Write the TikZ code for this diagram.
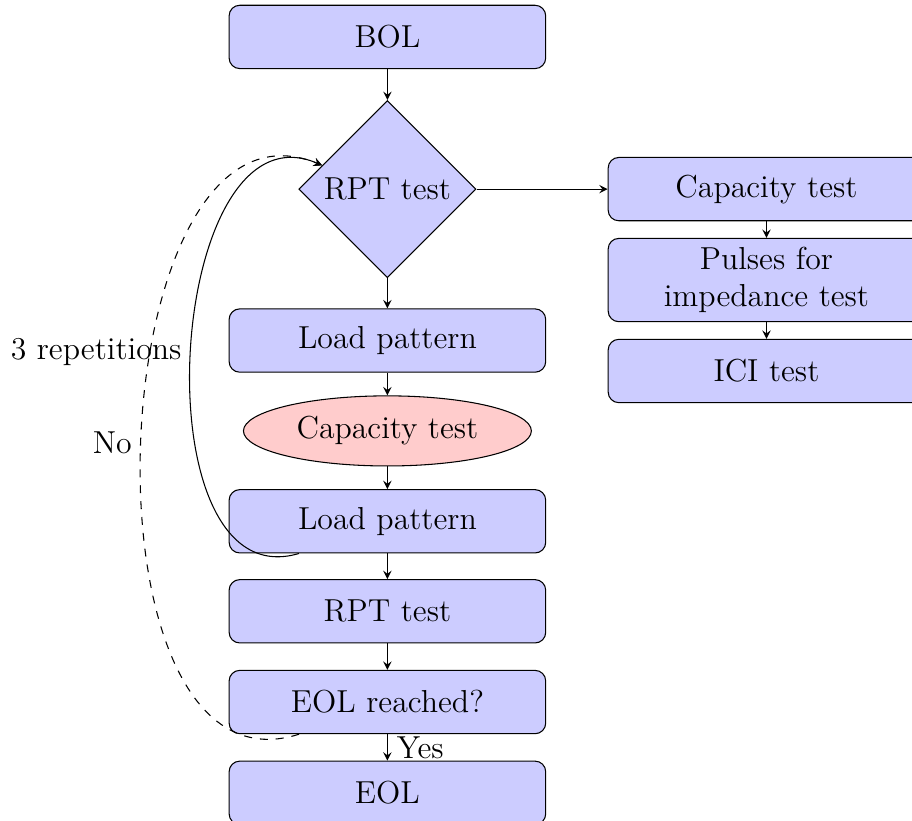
\documentclass[tikz,border=0pt]{standalone}
\usepackage{xcolor}
\usepackage{tikz}
\usetikzlibrary{positioning,shapes.geometric}
\definecolor{stepblue}{RGB}{204,204,255}
\definecolor{checkred}{RGB}{255,204,204}

\begin{document}
\begin{tikzpicture}[font=\large, >=stealth,
  stepbox/.style={draw, rounded corners, fill=stepblue, minimum width=4.2cm, minimum height=0.84cm, text width=3.9cm, align=center},
  decision/.style={draw, diamond, fill=stepblue, minimum size=2.35cm, inner sep=0pt},
  checkpoint/.style={draw, ellipse, fill=checkred, minimum width=3.82cm, minimum height=0.93cm}]
\useasboundingbox (-5.14,0.49) rectangle (6.96,-10.40);

% Ageing loop
\node[stepbox] (bol) at (0,0) {BOL};
\node[decision, below=0.41cm of bol] (rpt) {RPT test};
\node[stepbox, below=0.40cm of rpt] (load1) {Load pattern};
\node[checkpoint, below=0.30cm of load1] (captest) {Capacity test};
\node[stepbox, below=0.30cm of captest] (load2) {Load pattern};
\node[stepbox, below=0.34cm of load2] (rptend) {RPT test};
\node[stepbox, below=0.35cm of rptend] (eolcheck) {EOL reached?};
\node[stepbox, below=0.35cm of eolcheck] (eol) {EOL};

% What one RPT test consists of
\node[stepbox, right=1.74cm of rpt] (cap) {Capacity test};
\node[stepbox, below=0.22cm of cap] (pulses) {Pulses for\\impedance test};
\node[stepbox, below=0.22cm of pulses] (ici) {ICI test};

% Connecting arrows
\draw[->] (bol) -- (rpt);
\draw[->] (rpt) -- (load1);
\draw[->] (load1) -- (captest);
\draw[->] (captest) -- (load2);
\draw[->] (load2) -- (rptend);
\draw[->] (rptend) -- (eolcheck);
\draw[->] (eolcheck) -- node[right] {Yes} (eol);
\draw[->] (rpt.east) -- (cap.west);
\draw[->] (cap) -- (pulses);
\draw[->] (pulses) -- (ici);

% Loops back to the RPT test
\draw[->] (load2) to[bend left=110, looseness=1.12] node[left] {3 repetitions} (rpt);
\draw[->, dashed] (eolcheck) to[bend left=110, looseness=1.08] node[left] {No} (rpt);
\end{tikzpicture}
\end{document}
